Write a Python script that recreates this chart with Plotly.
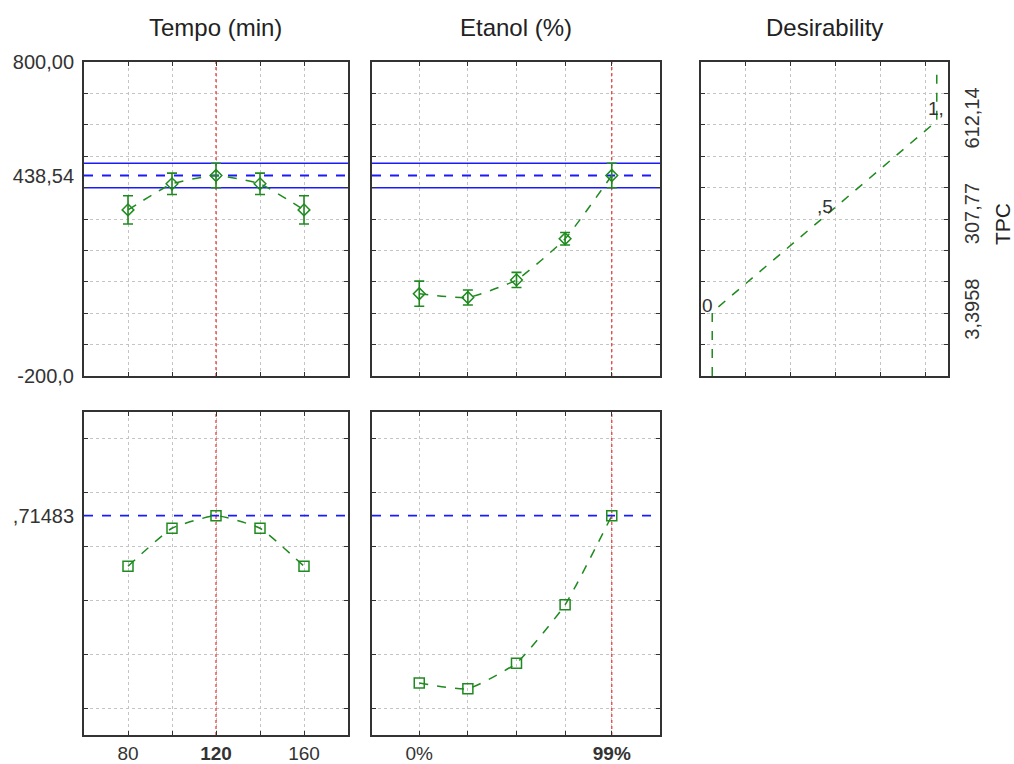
import plotly.graph_objects as go

# ---------------- data ----------------
TEMPO = [80, 100, 120, 140, 160]
TEMPO_LABELS = ["80", "", "<b>120</b>", "", "160"]
TPC_TEMPO = [329, 412, 438.54, 412, 329]
TPC_TEMPO_ERR = [45, 34, 39, 34, 45]
DES_TEMPO = [0.527, 0.668, 0.71483, 0.668, 0.527]

ETANOL = [0, 25, 50, 75, 99]
ETANOL_LABELS = ["0%", "", "", "", "<b>99%</b>"]
TPC_ETANOL = [62, 50, 106, 237, 438.54]
TPC_ETANOL_ERR = [40, 24, 24, 20, 39]
DES_ETANOL = [0.093, 0.072, 0.167, 0.384, 0.71483]

OPT_TEMPO = 120
OPT_ETANOL = 99
TPC_PRED = 438.54
TPC_CI = [399.5, 477.5]
DES_PRED = 0.71483

# desirability function for TPC
DES_CURVE_D = [0, 0, 1, 1]
DES_CURVE_TPC = [-200, 3.3958, 612.14, 785]
DES_LABELS = ["0", ",5", "1,"]
DES_LABEL_D = [0, 0.5, 1]
DES_LABEL_TPC = [3.3958, 307.77, 612.14]

TPC_RANGE = [-200, 800]
TPC_GRID = [-100, 0, 100, 200, 300, 400, 500, 600, 700]
TPC_TICKVALS = [-200, 438.54, 800]
TPC_TICKTEXT = ["-200,0", "438,54", "800,00"]
DES_Y_RANGE = [-0.1, 1.1]
DES_Y_GRID = [0, 0.2, 0.4, 0.6, 0.8, 1.0]
DES_X_GRID = [0.15, 0.35, 0.55, 0.75, 0.95]
RIGHT_TICKVALS = [3.3958, 307.77, 612.14]
RIGHT_TICKTEXT = ["3,3958", "307,77", "612,14"]

# ---------------- style ----------------
W, H = 1014, 764
GREEN = "#1f8a1f"
BLUE = "#1a1aff"
RED = "#e8413c"
GRID = "#c4c4c4"
FRAME = "#333333"
TXT = "#333333"
FONT = "Liberation Sans, Arial, sans-serif"


def px_x(a, b):
    return [a / W, b / W]


def px_y(top, bottom):
    return [(H - bottom) / H, (H - top) / H]


X1, X2, X3 = px_x(84, 348), px_x(372, 660), px_x(701, 948)
YT, YB = px_y(62, 376), px_y(412, 735)

fig = go.Figure()


def frame_axis(**kw):
    d = dict(showline=True, linecolor=FRAME, linewidth=1.5, mirror="ticks",
             ticks="inside", ticklen=4, tickcolor=FRAME, tickwidth=1,
             showgrid=True, gridcolor=GRID, griddash="dot", gridwidth=1,
             zeroline=False, fixedrange=True, automargin=False,
             tickfont=dict(family=FONT, size=20, color=TXT))
    d.update(kw)
    return d


XFONT = dict(family=FONT, size=19, color=TXT)
lay = {}
# top-left: Tempo vs TPC
lay["xaxis"] = frame_axis(domain=X1, anchor="y", range=[60, 180], tickvals=TEMPO, showticklabels=False)
lay["yaxis"] = frame_axis(domain=YT, anchor="x", range=TPC_RANGE, tickvals=TPC_GRID, showticklabels=False)
# top-middle: Etanol vs TPC
lay["xaxis2"] = frame_axis(domain=X2, anchor="y2", range=[-24.3, 123.8], tickvals=ETANOL, showticklabels=False)
lay["yaxis2"] = frame_axis(domain=YT, anchor="x2", range=TPC_RANGE, tickvals=TPC_GRID, showticklabels=False)
# top-right: desirability
lay["xaxis3"] = frame_axis(domain=X3, anchor="y3", range=[-0.05, 1.05], tickvals=DES_X_GRID, showticklabels=False)
lay["yaxis3"] = frame_axis(domain=YT, anchor="x3", range=TPC_RANGE, tickvals=TPC_GRID, showticklabels=False, side="right")
# bottom-left
lay["xaxis4"] = frame_axis(domain=X1, anchor="y4", range=[60, 180], tickvals=TEMPO, ticktext=TEMPO_LABELS,
                           ticklabelstandoff=0, tickfont=XFONT)
lay["yaxis4"] = frame_axis(domain=YB, anchor="x4", range=DES_Y_RANGE, tickvals=DES_Y_GRID, showticklabels=False)
# bottom-middle
lay["xaxis5"] = frame_axis(domain=X2, anchor="y5", range=[-24.3, 123.8], tickvals=ETANOL, ticktext=ETANOL_LABELS,
                           ticklabelstandoff=0, tickfont=XFONT)
lay["yaxis5"] = frame_axis(domain=YB, anchor="x5", range=DES_Y_RANGE, tickvals=DES_Y_GRID, showticklabels=False)

# label-only overlay axes
lab = dict(showline=False, showgrid=False, zeroline=False, ticks="", fixedrange=True, automargin=False,
           tickfont=dict(family=FONT, size=20, color=TXT))
lay["yaxis6"] = dict(lab, overlaying="y", anchor="x", side="left", range=TPC_RANGE,
                     tickvals=TPC_TICKVALS, ticktext=TPC_TICKTEXT, ticklabelstandoff=9)
lay["yaxis7"] = dict(lab, overlaying="y3", anchor="x3", side="right", range=TPC_RANGE,
                     tickvals=RIGHT_TICKVALS, ticktext=RIGHT_TICKTEXT, tickangle=-90, ticklabelstandoff=10)
lay["yaxis8"] = dict(lab, overlaying="y4", anchor="x4", side="left", range=DES_Y_RANGE,
                     tickvals=[DES_PRED], ticktext=[",71483"], ticklabelstandoff=9)

for ya, xa in [("y6", "x"), ("y7", "x3"), ("y8", "x4")]:
    fig.add_trace(go.Scatter(x=[], y=[], xaxis=xa, yaxis=ya, showlegend=False, hoverinfo="skip"))

# reference lines (drawn as traces so they sit between grid and data)
for xa, ya, xv, yr in [("x", "y", OPT_TEMPO, TPC_RANGE), ("x2", "y2", OPT_ETANOL, TPC_RANGE),
                       ("x4", "y4", OPT_TEMPO, DES_Y_RANGE), ("x5", "y5", OPT_ETANOL, DES_Y_RANGE)]:
    fig.add_trace(go.Scatter(x=[xv, xv], y=yr, xaxis=xa, yaxis=ya, mode="lines",
                             line=dict(color=RED, width=1.3, dash="dot"), showlegend=False, hoverinfo="skip"))
for xa, ya, xr in [("x", "y", [60, 180]), ("x2", "y2", [-24.3, 123.8])]:
    for v in TPC_CI:
        fig.add_trace(go.Scatter(x=xr, y=[v, v], xaxis=xa, yaxis=ya, mode="lines",
                                 line=dict(color=BLUE, width=1.5), showlegend=False, hoverinfo="skip"))
    fig.add_trace(go.Scatter(x=xr, y=[TPC_PRED, TPC_PRED], xaxis=xa, yaxis=ya, mode="lines",
                             line=dict(color=BLUE, width=1.8, dash="dash"), showlegend=False, hoverinfo="skip"))
for xa, ya, xr in [("x4", "y4", [60, 180]), ("x5", "y5", [-24.3, 123.8])]:
    fig.add_trace(go.Scatter(x=xr, y=[DES_PRED, DES_PRED], xaxis=xa, yaxis=ya, mode="lines",
                             line=dict(color=BLUE, width=1.8, dash="dash"), showlegend=False, hoverinfo="skip"))

line_style = dict(color=GREEN, width=1.5, dash="dash", shape="spline", smoothing=0.45)

# TPC profiles
fig.add_trace(go.Scatter(x=TEMPO, y=TPC_TEMPO, xaxis="x", yaxis="y", mode="lines+markers",
                         line=line_style,
                         marker=dict(symbol="diamond-open", size=9, color=GREEN, line=dict(width=1.5, color=GREEN)),
                         error_y=dict(type="data", array=TPC_TEMPO_ERR, color=GREEN, thickness=1.6, width=5),
                         showlegend=False))
fig.add_trace(go.Scatter(x=ETANOL, y=TPC_ETANOL, xaxis="x2", yaxis="y2", mode="lines+markers",
                         line=line_style,
                         marker=dict(symbol="diamond-open", size=9, color=GREEN, line=dict(width=1.5, color=GREEN)),
                         error_y=dict(type="data", array=TPC_ETANOL_ERR, color=GREEN, thickness=1.6, width=5),
                         showlegend=False))
# desirability function
fig.add_trace(go.Scatter(x=DES_CURVE_D, y=DES_CURVE_TPC, xaxis="x3", yaxis="y3", mode="lines",
                         line=dict(color=GREEN, width=1.5, dash="dash"), showlegend=False))
# desirability profiles
fig.add_trace(go.Scatter(x=TEMPO, y=DES_TEMPO, xaxis="x4", yaxis="y4", mode="lines+markers",
                         line=line_style,
                         marker=dict(symbol="square-open", size=10, color=GREEN, line=dict(width=1.5, color=GREEN)),
                         showlegend=False))
fig.add_trace(go.Scatter(x=ETANOL, y=DES_ETANOL, xaxis="x5", yaxis="y5", mode="lines+markers",
                         line=line_style,
                         marker=dict(symbol="square-open", size=10, color=GREEN, line=dict(width=1.5, color=GREEN)),
                         showlegend=False))

annotations = []
# column titles
for text, dom in [("Tempo (min)", X1), ("Etanol (%)", X2), ("Desirability", X3)]:
    annotations.append(dict(text=text, xref="paper", yref="paper", x=(dom[0] + dom[1]) / 2, y=(H - 28) / H,
                            xanchor="center", yanchor="middle", showarrow=False,
                            font=dict(family=FONT, size=24, color="#222222")))
annotations.append(dict(text="TPC", xref="paper", yref="paper", x=1003 / W, y=(H - 224) / H,
                        xanchor="center", yanchor="middle", textangle=-90, showarrow=False,
                        font=dict(family=FONT, size=21, color="#222222")))
# desirability value labels
shifts = [(-5, 7), (0, 10), (-1, 12)]
for t, d, v, (xs, ys) in zip(DES_LABELS, DES_LABEL_D, DES_LABEL_TPC, shifts):
    annotations.append(dict(text=t, xref="x3", yref="y3", x=d, y=v, xanchor="center", yanchor="middle",
                            xshift=xs, yshift=ys, showarrow=False,
                            font=dict(family=FONT, size=19, color=TXT)))

fig.update_layout(width=W, height=H, margin=dict(l=0, r=0, t=0, b=0),
                  paper_bgcolor="white", plot_bgcolor="white", showlegend=False,
                  annotations=annotations, **lay)

fig.write_html("out.html")
